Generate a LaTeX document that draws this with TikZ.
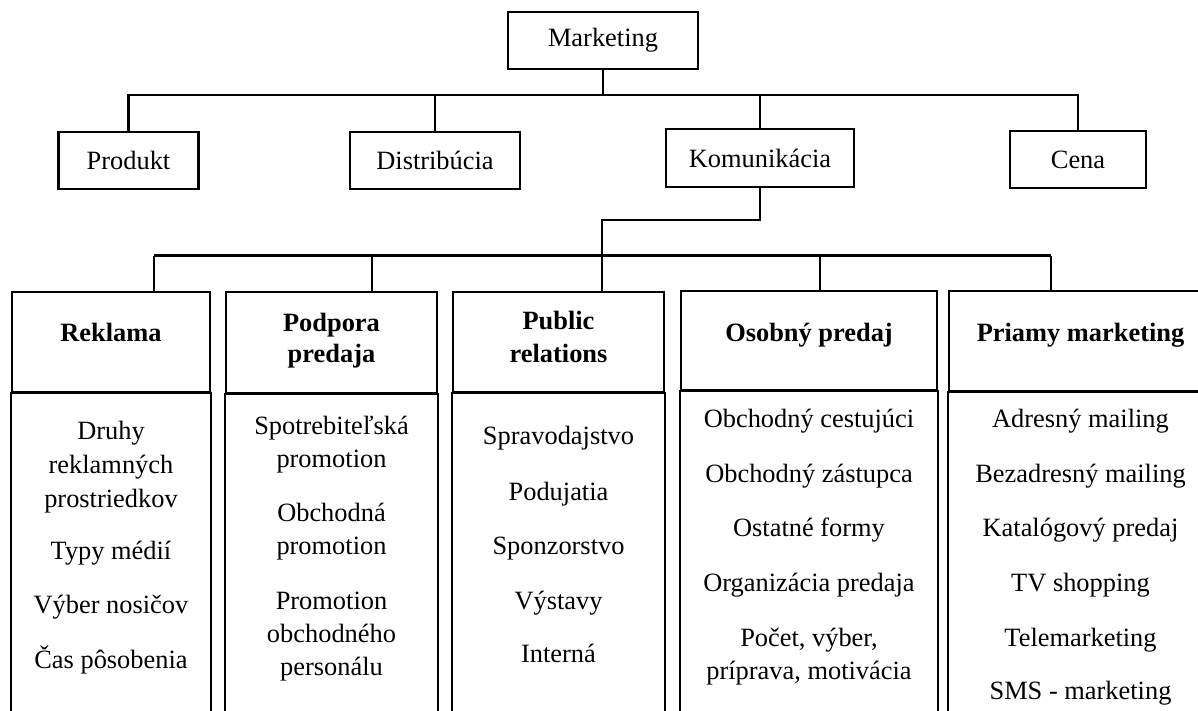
\documentclass[tikz,border=0pt]{standalone}
\usepackage{fontspec}
\setmainfont{Liberation Serif}
\begin{document}
\begin{tikzpicture}[x=0.5pt,y=-0.5pt,
  every node/.style={font=\fontsize{13.2pt}{16pt}\selectfont, inner sep=0pt},
  box/.style={draw, line width=1.1pt, rectangle},
  lbl/.style={anchor=base},
  hdr/.style={anchor=base, font=\fontsize{13.2pt}{16pt}\selectfont\bfseries},
  wire/.style={line width=1.1pt}]
\useasboundingbox (0,0) rectangle (1198,711);
\clip (0,0) rectangle (1198,711);

% first level
\node[box, minimum width=95pt, minimum height=28.5pt] (mkt) at (603,40.5) {Marketing};
\node[box, minimum width=70pt, minimum height=28.5pt] (prod) at (128.5,160.5) {Produkt};
\node[box, minimum width=85pt, minimum height=28.5pt] (dist) at (435,160.5) {Distribúcia};
\node[box, minimum width=94pt, minimum height=29pt] (kom) at (760,158) {Komunikácia};
\node[box, minimum width=68pt, minimum height=28.5pt] (cena) at (1078,159.5) {Cena};

\coordinate (b1) at (603,95);
\draw[wire] (mkt.south) -- (b1);
\draw[wire] (prod.north) -- (prod.north |- b1) -- (cena.north |- b1) -- (cena.north);
\draw[wire] (dist.north) -- (dist.north |- b1);
\draw[wire] (kom.north) -- (kom.north |- b1);

% communication tools: header boxes
\node[box, minimum width=99pt, minimum height=50pt] (rek) at (111,342) {};
\node[box, minimum width=105.5pt, minimum height=50.5pt] (pod) at (331.5,342.5) {};
\node[box, minimum width=105.5pt, minimum height=50pt] (pr) at (558.5,342) {};
\node[box, minimum width=128pt, minimum height=49.5pt] (os) at (809,340.5) {};
\node[box, minimum width=131.5pt, minimum height=50pt] (pm) at (1080.5,341) {};

% bodies, open below the page edge
\foreach \b in {rek,pod,pr,os,pm}
  \draw[box] (\b.south west) rectangle (\b.south east |- 0,780);

% connectors to the second level
\coordinate (b2) at (602,255.5);
\draw[wire] (kom.south) -- (kom.south |- 0,220) -| (b2);
\coordinate (d1) at (154,255.5);
\coordinate (d2) at (372,255.5);
\coordinate (d3) at (602,255.5);
\coordinate (d4) at (820,255.5);
\coordinate (d5) at (1051,255.5);
\draw[wire] (d1) -- (d5);
\draw[wire] (d1) -- (d1 |- rek.north);
\draw[wire] (d2) -- (d2 |- pod.north);
\draw[wire] (d3) -- (d3 |- pr.north);
\draw[wire] (d4) -- (d4 |- os.north);
\draw[wire] (d5) -- (d5 |- pm.north);

% header titles
\node[hdr] (rek-t) at (111,341) {Reklama};
\node[hdr] (pod-t1) at (331.5,331) {Podpora};
\node[hdr] (pod-t2) at (331.5,362) {predaja};
\node[hdr] (pr-t1) at (558.5,329) {Public};
\node[hdr] (pr-t2) at (558.5,362) {relations};
\node[hdr] (os-t) at (809,341) {Osobný predaj};
\node[hdr] (pm-t) at (1080.5,341) {Priamy marketing};

% Reklama
\node[lbl] (rek-1) at (111,439) {Druhy};
\node[lbl] (rek-2) at (111,473) {reklamných};
\node[lbl] (rek-3) at (111,507) {prostriedkov};
\node[lbl] (rek-4) at (111,559) {Typy médií};
\node[lbl] (rek-5) at (111,613) {Výber nosičov};
\node[lbl] (rek-6) at (111,668) {Čas pôsobenia};

% Podpora predaja
\node[lbl] (pod-1) at (331.5,434) {Spotrebiteľská};
\node[lbl] (pod-2) at (331.5,467) {promotion};
\node[lbl] (pod-3) at (331.5,521) {Obchodná};
\node[lbl] (pod-4) at (331.5,554) {promotion};
\node[lbl] (pod-5) at (331.5,609) {Promotion};
\node[lbl] (pod-6) at (331.5,642) {obchodného};
\node[lbl] (pod-7) at (331.5,675) {personálu};

% Public relations
\node[lbl] (pr-1) at (558.5,444) {Spravodajstvo};
\node[lbl] (pr-2) at (558.5,500) {Podujatia};
\node[lbl] (pr-3) at (558.5,554) {Sponzorstvo};
\node[lbl] (pr-4) at (558.5,609) {Výstavy};
\node[lbl] (pr-5) at (558.5,662) {Interná};

% Osobný predaj
\node[lbl] (os-1) at (809,427) {Obchodný cestujúci};
\node[lbl] (os-2) at (809,482) {Obchodný zástupca};
\node[lbl] (os-3) at (809,536) {Ostatné formy};
\node[lbl] (os-4) at (809,591) {Organizácia predaja};
\node[lbl] (os-5) at (809,646) {Počet, výber,};
\node[lbl] (os-6) at (809,679) {príprava, motivácia};

% Priamy marketing
\node[lbl] (pm-1) at (1080.5,427) {Adresný mailing};
\node[lbl] (pm-2) at (1080.5,482) {Bezadresný mailing};
\node[lbl] (pm-3) at (1080.5,536) {Katalógový predaj};
\node[lbl] (pm-4) at (1080.5,591) {TV shopping};
\node[lbl] (pm-5) at (1080.5,646) {Telemarketing};
\node[lbl] (pm-6) at (1080.5,699) {SMS - marketing};
\end{tikzpicture}
\end{document}
